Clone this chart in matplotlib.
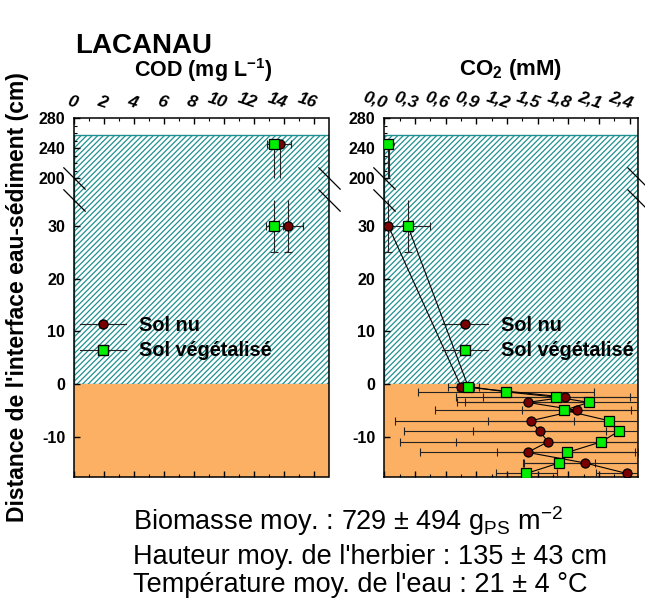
import numpy as np
import matplotlib
matplotlib.use('Agg')
import matplotlib.pyplot as plt
from matplotlib.lines import Line2D

plt.rcParams['font.family'] = ['Liberation Sans', 'DejaVu Sans']
plt.rcParams['mathtext.fontset'] = 'custom'
plt.rcParams['mathtext.rm'] = 'Liberation Sans'
plt.rcParams['mathtext.bf'] = 'Liberation Sans:bold'
plt.rcParams['mathtext.it'] = 'Liberation Sans:italic'
plt.rcParams['hatch.linewidth'] = 0.9

# ---------------- data ----------------
# COD (mg/L) in the water column
cod_depth = [245, 30]
cod_nu = [13.7, 14.25]
cod_nu_xerr = [0.75, 1.0]
cod_veg = [13.33, 13.33]
cod_veg_xerr = [0.5, 0.57]
# vertical errors of the two water-column points (lower, upper)
water_yerr_low = [45, 5]
water_yerr_up = [0, 5]

# CO2 (mM)
co2_nu_depth = [245, 30, -0.5, -2.5, -3.5, -5, -7, -9, -11, -13, -15, -17]
co2_nu = [0.05, 0.04, 0.75, 1.77, 1.40, 1.88, 1.43, 1.52, 1.60, 1.40, 1.96, 2.37]
co2_nu_xerr = [0.03, 0.03, 0.13, 1.07, 0.61, 0.53, 0.42, 0.65, 0.90, 1.05, 0.59, 0.30]
co2_veg_depth = [245, 30, -0.5, -1.5, -2.5, -3.5, -5, -7, -9, -11, -13, -15, -17]
co2_veg = [0.04, 0.23, 0.82, 1.19, 1.68, 2.00, 1.76, 2.20, 2.29, 2.12, 1.79, 1.71, 1.39]
co2_veg_xerr = [0.03, 0.22, 0.11, 0.86, 0.72, 1.29, 1.26, 2.10, 2.10, 1.97, 0.69, 0.35, 0.30]

y_ticks = [-10, 0, 10, 20, 30, 200, 240, 280]
cod_ticks = [0, 2, 4, 6, 8, 10, 12, 14, 16]
co2_ticks = [0.0, 0.3, 0.6, 0.9, 1.2, 1.5, 1.8, 2.1, 2.4]
co2_ticklabels = ['0,0', '0,3', '0,6', '0,9', '1,2', '1,5', '1,8', '2,1', '2,4']

water_top = 257
y_bottom, y_top = -17.6, 280
BREAK_LOW, BREAK_HIGH = 35, 200   # axis break: 35 -> 200

C_NU = '#7a0000'
C_VEG = '#00ee00'
C_HATCH = '#1f9090'
C_SED = '#fcb063'

# broken-axis scale (piecewise linear)
SEG = [-1e4, BREAK_LOW, BREAK_HIGH, 1e4]
T200 = BREAK_LOW + 21.4 / 5.28
K_TOP = 0.7575 / 5.28
TSEG = [-1e4, BREAK_LOW, T200, T200 + (1e4 - BREAK_HIGH) * K_TOP]


def fwd(y):
    return np.interp(np.asarray(y, dtype=float), SEG, TSEG)


def inv(t):
    return np.interp(np.asarray(t, dtype=float), TSEG, SEG)


W, H = 645, 603
fig = plt.figure(figsize=(W / 100, H / 100), dpi=100)


def make_ax(x0, x1):
    ax = fig.add_axes([x0 / W, 1 - 476.6 / H, (x1 - x0) / W, (476.6 - 118) / H])
    ax.set_yscale('function', functions=(fwd, inv))
    ax.set_ylim(y_bottom, y_top)
    ax.axhspan(0, water_top, facecolor='white', edgecolor=C_HATCH, hatch='//////',
               linewidth=1.0, zorder=0)
    ax.axhspan(y_bottom, 0, facecolor=C_SED, edgecolor='none', zorder=0.5)
    ax.set_yticks(y_ticks)
    ax.set_yticklabels([str(v) for v in y_ticks], fontsize=11.5, fontweight='bold')
    ax.set_yticks([210, 220, 230, 250, 260, 270], minor=True)
    ax.tick_params(axis='y', which='both', direction='in', left=True, right=False, pad=6.5)
    ax.tick_params(axis='y', which='major', length=4, width=1)
    ax.tick_params(axis='y', which='minor', length=2, width=0.8)
    ax.xaxis.tick_top()
    ax.tick_params(axis='x', which='both', direction='in', top=True, bottom=True,
                   labeltop=True, labelbottom=False, pad=5)
    ax.tick_params(axis='x', which='major', length=4, width=1)
    ax.tick_params(axis='x', which='minor', length=2.5, width=0.8)
    for s in ax.spines.values():
        s.set_linewidth(1.1)
    # axis-break marks
    for xa in (0, 1):
        ax.plot([xa, xa], [BREAK_HIGH, BREAK_LOW], transform=ax.get_yaxis_transform(),
                ls='none', marker=[(-1, 1), (1, -1)], markersize=16, mec='k', mew=0.9,
                clip_on=False, zorder=10)
    return ax


def series(ax, depth, vals, xerr, color, marker, connect):
    ek = dict(fmt='none', ecolor='#222222', elinewidth=0.8, capsize=3, capthick=0.8, zorder=3)
    lk = dict(colors='#222222', linewidth=0.8, zorder=3)
    # top water point: x error with caps, vertical error cut by the axis break
    ax.errorbar(vals[:1], depth[:1], xerr=xerr[:1], **ek)
    ax.vlines(vals[0], max(depth[0] - water_yerr_low[0], BREAK_HIGH), depth[0], **lk)
    # point just above the interface: lower y error capped, upper one cut by the break
    ax.errorbar(vals[1:2], depth[1:2], xerr=xerr[1:2], yerr=[[water_yerr_low[1]], [0]], **ek)
    ax.vlines(vals[1], depth[1], min(depth[1] + water_yerr_up[1], BREAK_LOW), **lk)
    if len(vals) > 2:
        ax.errorbar(vals[2:], depth[2:], xerr=xerr[2:], **ek)
    if connect:
        ax.plot(vals[1:], depth[1:], color='k', lw=0.8, zorder=4)
    ax.plot(vals, depth, ls='none', marker=marker, ms=6.5, mfc=color, mec='k',
            mew=0.9, zorder=5)


# ---- COD panel ----
ax1 = make_ax(74.3, 328.5)
ax1.set_xlim(0, 16.95)
ax1.set_xticks(cod_ticks)
ax1.set_xticklabels([str(v) for v in cod_ticks])
ax1.set_xticks(np.arange(1, 17, 2), minor=True)
series(ax1, cod_depth, cod_nu, cod_nu_xerr, C_NU, 'o', False)
series(ax1, cod_depth, cod_veg, cod_veg_xerr, C_VEG, 's', False)

# ---- CO2 panel ----
ax2 = make_ax(384.3, 638.0)
ax2.set_xlim(0, 2.48)
ax2.set_xticks(co2_ticks)
ax2.set_xticklabels(co2_ticklabels)
ax2.set_xticks(np.arange(0.15, 2.48, 0.3), minor=True)
series(ax2, co2_nu_depth, co2_nu, co2_nu_xerr, C_NU, 'o', True)
series(ax2, co2_veg_depth, co2_veg, co2_veg_xerr, C_VEG, 's', True)

for ax in (ax1, ax2):
    for lab in ax.get_xticklabels():
        lab.set_rotation(-18)
        lab.set_ha('right')
        lab.set_rotation_mode('anchor')
        lab.set_fontstyle('italic')
        lab.set_fontweight('bold')
        lab.set_fontsize(12.5)

# legends
handles = [
    Line2D([], [], color='#222222', lw=0.8, marker='o', ms=6.5, mfc=C_NU, mec='k'),
    Line2D([], [], color='#222222', lw=0.8, marker='s', ms=6.5, mfc=C_VEG, mec='k'),
]
labels = ['Sol nu', 'Sol végétalisé']
for ax, xl in ((ax1, 80), (ax2, 442)):
    ax.legend(handles, labels, loc='center left', bbox_to_anchor=(xl / W, 1 - 338 / H),
              bbox_transform=fig.transFigure, frameon=False, borderpad=0,
              borderaxespad=0, handlelength=2.3, handletextpad=0.65,
              labelspacing=0.35, prop={'weight': 'bold', 'size': 14.3})

# texts
fig.text(75 / W, 1 - 46 / H, 'LACANAU', fontsize=20, fontweight='bold', ha='left', va='center')
fig.text(203 / W, 1 - 70 / H, r'COD (mg L$^{\mathbf{-1}}$)', fontsize=15.5, fontweight='bold',
         ha='center', va='center')
fig.text(511 / W, 1 - 70 / H, r'CO$_{\mathbf{2}}$ (mM)', fontsize=16, fontweight='bold',
         ha='center', va='center')
fig.text(18 / W, 1 - 297 / H, "Distance de l'interface eau-sédiment (cm)", fontsize=16.5,
         fontweight='bold', rotation=90, ha='center', va='center')
fig.text(133 / W, 1 - 521 / H, r'Biomasse moy. : 729 ± 494 g$_{\mathrm{PS}}$ m$^{-2}$',
         fontsize=19.5, ha='left', va='center')
fig.text(133 / W, 1 - 557 / H, "Hauteur moy. de l'herbier : 135 ± 43 cm", fontsize=19.5,
         ha='left', va='center')
fig.text(133 / W, 1 - 585 / H, "Température moy. de l'eau : 21 ± 4 °C", fontsize=19.5,
         ha='left', va='center')

fig.savefig('out.png', dpi=100)
